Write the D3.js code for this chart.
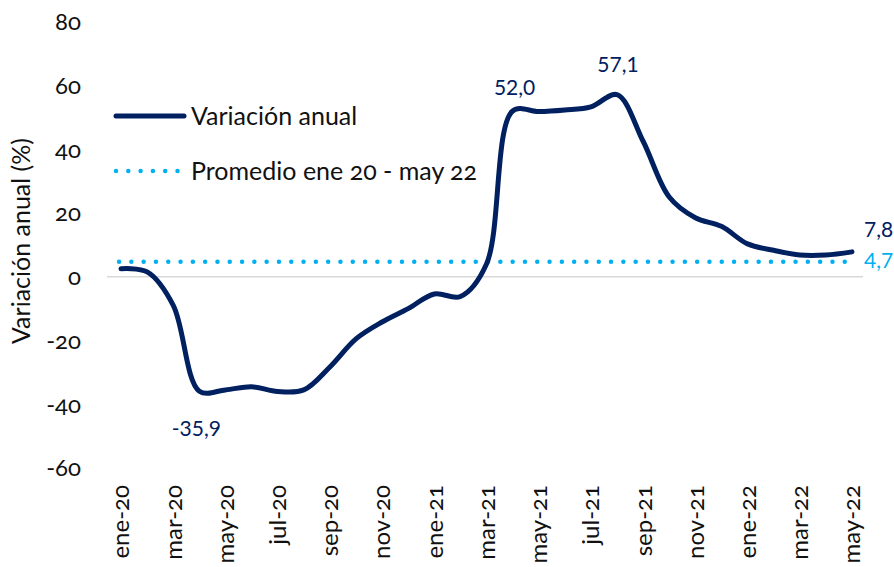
<!DOCTYPE html>
<html>
<head>
<meta charset="utf-8">
<script src="https://cdn.jsdelivr.net/npm/d3@7"></script>
<style>
  body { margin: 0; background: #fff; }
  svg text { font-family: Lato, "Open Sans", sans-serif; }
  .onum { font-variant-numeric: oldstyle-nums; }
</style>
</head>
<body>
<svg id="chart"></svg>
<script>
// meses (ene-20 .. may-22)
const meses = ["ene-20","feb-20","mar-20","abr-20","may-20","jun-20","jul-20","ago-20","sep-20","oct-20","nov-20","dic-20",
  "ene-21","feb-21","mar-21","abr-21","may-21","jun-21","jul-21","ago-21","sep-21","oct-21","nov-21","dic-21",
  "ene-22","feb-22","mar-22","abr-22","may-22"];
const variacion = [2.5, 1.5, -9, -35.9, -35.5, -34.5, -36, -35.5, -28.3, -19.5, -14.2, -10,
  -5.4, -6.2, 4, 52.0, 51.8, 52.3, 53.3, 57.1, 42.5, 25, 18.5, 15.8,
  10.3, 8.3, 6.8, 6.8, 7.8];
const promedio = 4.7;
const yTicks = [-60, -40, -20, 0, 20, 40, 60, 80];
// etiquetas de datos
const etiquetas = [
  { mes: "abr-20", texto: "-35,9" },
  { mes: "abr-21", texto: "52,0" },
  { mes: "ago-21", texto: "57,1" }
];

const width = 894, height = 567;
const navy = "#002060", celeste = "#00b0f0";

const svg = d3.select("#chart").attr("width", width).attr("height", height);

const x = d3.scalePoint().domain(meses).range([108, 865]).padding(0.5);
const y = d3.scaleLinear().domain([-60, 80]).range([468, 21.7]);

// linea del cero
svg.append("line")
  .attr("x1", 107).attr("x2", 863)
  .attr("y1", y(0)).attr("y2", y(0))
  .attr("stroke", "#d9d9d9").attr("stroke-width", 1.5);

// eje Y
svg.append("g").selectAll("text")
  .data(yTicks)
  .enter().append("text")
  .attr("class", "onum")
  .attr("x", 81).attr("y", d => y(d))
  .attr("dy", "0.35em")
  .attr("text-anchor", "end")
  .attr("font-size", 24)
  .attr("fill", "#111")
  .text(d => d);

svg.append("text")
  .attr("transform", `translate(30,${241}) rotate(-90)`)
  .attr("text-anchor", "middle")
  .attr("font-size", 25)
  .attr("fill", "#111")
  .text("Variación anual (%)");

// eje X (cada dos meses)
svg.append("g").selectAll("text")
  .data(meses.filter((d, i) => i % 2 === 0))
  .enter().append("text")
  .attr("class", "onum")
  .attr("transform", d => `translate(${x(d)},485) rotate(-90)`)
  .attr("dy", "0.35em")
  .attr("text-anchor", "end")
  .attr("font-size", 24)
  .attr("fill", "#111")
  .text(d => d);

// promedio
svg.append("line")
  .attr("x1", x(meses[0]) - 2).attr("x2", x(meses[meses.length - 1]))
  .attr("y1", y(promedio)).attr("y2", y(promedio))
  .attr("stroke", celeste).attr("stroke-width", 4.5)
  .attr("stroke-linecap", "round")
  .attr("stroke-dasharray", "0 12.3");

// serie
const line = d3.line()
  .x((d, i) => x(meses[i]))
  .y(d => y(d))
  .curve(d3.curveCatmullRom.alpha(0.5));

svg.append("path")
  .datum(variacion)
  .attr("d", line)
  .attr("fill", "none")
  .attr("stroke", navy)
  .attr("stroke-width", 5)
  .attr("stroke-linecap", "round")
  .attr("stroke-linejoin", "round");

// etiquetas (desplazamiento vertical segun etiqueta)
const val = m => variacion[meses.indexOf(m)];
const offset = { "-35,9": [-3, 37], "52,0": [2, -23], "57,1": [1, -30] };
svg.append("g").selectAll("text")
  .data(etiquetas)
  .enter().append("text")
  .attr("x", d => x(d.mes) + offset[d.texto][0])
  .attr("y", d => y(val(d.mes)) + offset[d.texto][1])
  .attr("dy", "0.35em")
  .attr("text-anchor", "middle")
  .attr("font-size", 21)
  .attr("fill", navy)
  .text(d => d.texto);

svg.append("text")
  .attr("x", 864).attr("y", 230).attr("dy", "0.35em")
  .attr("font-size", 21).attr("fill", navy)
  .text("7,8");
svg.append("text")
  .attr("x", 864).attr("y", 261).attr("dy", "0.35em")
  .attr("font-size", 21).attr("fill", celeste)
  .text("4,7");

// leyenda
const leg = svg.append("g");
leg.append("line")
  .attr("x1", 116).attr("x2", 184).attr("y1", 116).attr("y2", 116)
  .attr("stroke", navy).attr("stroke-width", 5).attr("stroke-linecap", "round");
leg.append("text")
  .attr("x", 191).attr("y", 116).attr("dy", "0.35em")
  .attr("font-size", 25).attr("fill", "#111")
  .text("Variación anual");
leg.append("line")
  .attr("x1", 116).attr("x2", 180).attr("y1", 171).attr("y2", 171)
  .attr("stroke", celeste).attr("stroke-width", 4.5)
  .attr("stroke-linecap", "round").attr("stroke-dasharray", "0 12.3");
leg.append("text")
  .attr("class", "onum")
  .attr("x", 191).attr("y", 171).attr("dy", "0.35em")
  .attr("font-size", 25).attr("fill", "#111")
  .text("Promedio ene 20 - may 22");
</script>
</body>
</html>
